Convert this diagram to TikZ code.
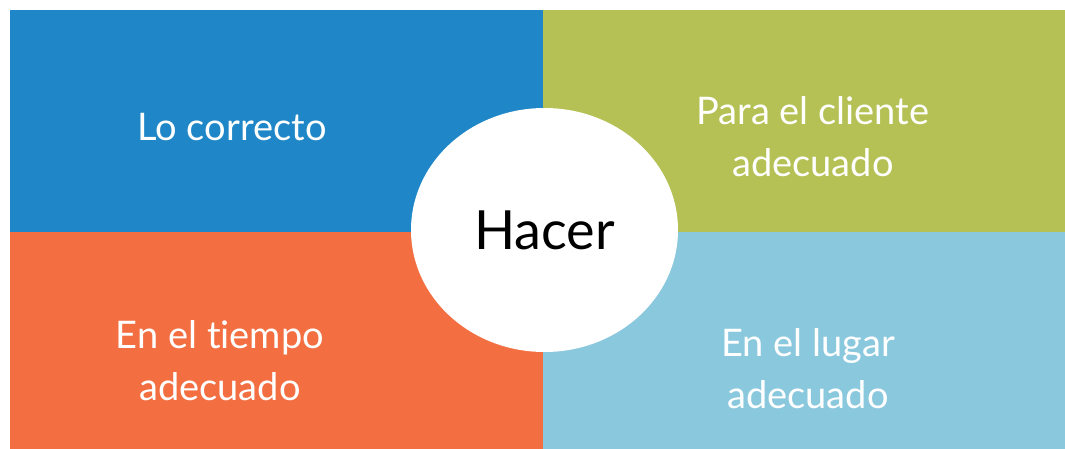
\documentclass[tikz,border=0pt]{standalone}
\usepackage{fontspec}
\setmainfont{Lato}[Ligatures=NoCommon]
\usepackage{tikz}
\usetikzlibrary{shapes.geometric,positioning}
\definecolor{quadblue}{RGB}{31,135,199}
\definecolor{quadgreen}{RGB}{181,193,84}
\definecolor{quadorange}{RGB}{243,111,66}
\definecolor{quadsky}{RGB}{138,200,221}
\tikzset{
  quad/.style={inner sep=0pt,outer sep=0pt,anchor=north west},
  lbl/.style={text=white,align=center,font=\fontsize{38}{52}\selectfont}
}
\begin{document}
\begin{tikzpicture}[x=1pt,y=-1pt]
    \useasboundingbox (0,0) rectangle (1065,449);
    % four quadrants
    \node[quad,fill=quadblue,minimum width=533pt,minimum height=222pt] (qblue) at (10,10) {};
    \node[quad,fill=quadgreen,minimum width=522pt,minimum height=222pt] (qgreen) at (543,10) {};
    \node[quad,fill=quadorange,minimum width=533pt,minimum height=217pt] (qorange) at (10,232) {};
    \node[quad,fill=quadsky,minimum width=522pt,minimum height=217pt] (qsky) at (543,232) {};
    % labels
    \node[lbl] (correcto) at (232,127) {Lo correcto};
    \node[lbl] (cliente) at (813,137) {Para el cliente\\adecuado};
    \node[lbl] (tiempo) at (220,361) {En el tiempo\\adecuado};
    \node[lbl] (lugar) at (808,369) {En el lugar\\adecuado};
    % centre
    \node[ellipse,fill=white,inner sep=0pt,minimum width=267pt,minimum height=244pt,
          font=\fontsize{54}{60}\selectfont] (hacer) at (544.5,230) {Hacer};
\end{tikzpicture}
\end{document}
